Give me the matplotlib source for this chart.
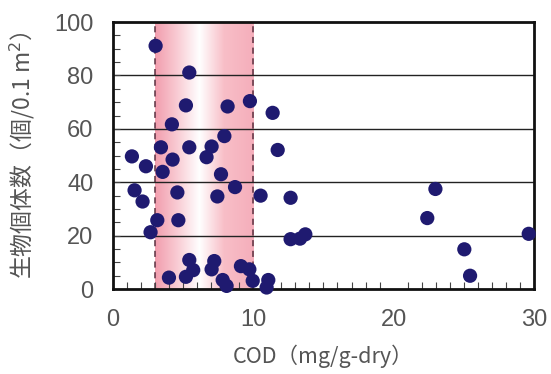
import numpy as np
import matplotlib.pyplot as plt
from matplotlib.colors import LinearSegmentedColormap
from matplotlib.ticker import MultipleLocator

plt.rcParams['font.family'] = ['Liberation Sans', 'Noto Sans CJK JP', 'DejaVu Sans']

cod = [3.04, 5.44, 5.2, 8.17, 9.76, 11.38, 4.2, 7.94, 3.42, 5.44, 7.03, 11.74,
       1.35, 6.67, 4.25, 2.35, 3.54, 7.7, 8.7, 1.54, 4.59, 7.44, 2.11, 3.16,
       4.66, 2.68, 10.52, 12.66, 12.66, 13.33, 13.71, 22.98, 22.4, 29.63,
       25.04, 25.45, 9.96, 11.07, 10.95, 5.44, 5.72, 5.2, 3.99, 7.22, 7.03,
       7.82, 8.1, 9.12, 9.72]
count = [91.1, 81.1, 68.8, 68.4, 70.4, 66.0, 61.7, 57.3, 53.1, 53.1, 53.4, 52.1,
         49.7, 49.4, 48.5, 46.0, 43.9, 43.0, 38.2, 37.0, 36.2, 34.7, 32.8, 25.8,
         25.8, 21.3, 35.0, 34.2, 18.7, 18.9, 20.5, 37.5, 26.6, 20.7,
         14.9, 5.0, 3.1, 3.4, 0.6, 10.9, 7.1, 4.6, 4.3, 10.5, 7.4,
         3.4, 1.2, 8.6, 7.4]

band = (3, 10)
yticks = [0, 20, 40, 60, 80, 100]
xticks = [0, 10, 20, 30]

fig = plt.figure(figsize=(5.51, 3.74), dpi=100)
ax = fig.add_axes([0.205, 0.227, 0.764, 0.714])

# pink band with gradient (pink - white - pink)
cmap = LinearSegmentedColormap.from_list(
    'band', [(0, '#f29eae'), (0.2, '#f8c6cf'), (0.45, '#ffffff'), (0.7, '#f8bec7'), (1, '#f5aebb')])
grad = np.linspace(0, 1, 256).reshape(1, -1)
ax.imshow(grad, cmap=cmap, aspect='auto', extent=[band[0], band[1], 0, 100], zorder=0)
for b in band:
    ax.axvline(b, color='#5a3040', ls=(0, (4, 3)), lw=1.1, zorder=1)

for y in yticks[1:-1]:
    ax.axhline(y, color='#222222', lw=1.0, zorder=1)

ax.scatter(cod, count, s=105, color='#1f1a70', edgecolors='none', zorder=3, clip_on=False)

ax.set_xlim(0, 30)
ax.set_ylim(0, 100)
ax.set_xticks(xticks)
ax.set_yticks(yticks)
ax.xaxis.set_minor_locator(MultipleLocator(1))
ax.yaxis.set_minor_locator(MultipleLocator(5))
ax.tick_params(axis='both', which='both', direction='in', color='#444444')
ax.tick_params(axis='x', which='major', length=0, pad=14, labelsize=17, labelcolor='#555555')
ax.tick_params(axis='y', which='major', length=5, pad=14, labelsize=17, labelcolor='#555555')
ax.tick_params(which='minor', length=5, width=0.8)
for s in ax.spines.values():
    s.set_linewidth(2)
    s.set_color('#111111')

ax.set_xlabel('COD（mg/g-dry）', fontsize=15.5, color='#555555', labelpad=10,
              family=['Noto Sans CJK JP'])
ax.set_ylabel('生物個体数（個/0.1 m$^2$）', fontsize=16.5, color='#555555', labelpad=12,
              family=['Noto Sans CJK JP'])

fig.savefig('out.png', dpi=100)
